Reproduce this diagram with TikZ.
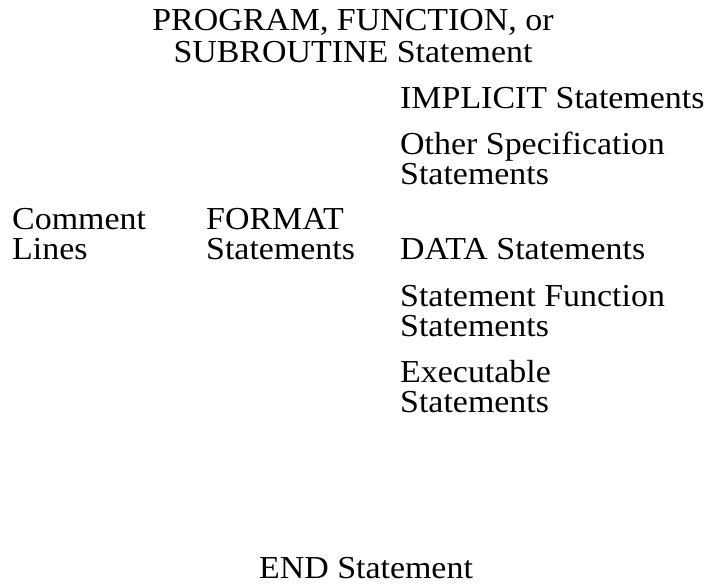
\documentclass[tikz,border=0pt]{standalone}
\usepackage{fontspec}
\setmainfont[FakeStretch=1.06]{Liberation Serif}
\begin{document}
\begin{tikzpicture}[x=1pt,y=-1pt,
  txt/.style={inner sep=0pt,anchor=base west,font=\fontsize{32}{30}\selectfont},
  ctr/.style={inner sep=0pt,anchor=base,font=\fontsize{32}{30}\selectfont}]
  \useasboundingbox (0,0) rectangle (707,586);
  % header
  \node[ctr] (head1) at (353,31) {PROGRAM, FUNCTION, or};
  \node[ctr] (head2) at (353,63) {SUBROUTINE Statement};
  % left columns
  \node[txt] (com1) at (12,229) {Comment};
  \node[txt] (com2) at (12,259) {Lines};
  \node[txt] (fmt1) at (206,229) {FORMAT};
  \node[txt] (fmt2) at (206,259) {Statements};
  % right column
  \node[txt] (impl) at (400,108) {IMPLICIT Statements};
  \node[txt] (spec1) at (400,154) {Other Specification};
  \node[txt] (spec2) at (400,184) {Statements};
  \node[txt] (data) at (400,259) {DATA Statements};
  \node[txt] (sfun1) at (400,306) {Statement Function};
  \node[txt] (sfun2) at (400,336) {Statements};
  \node[txt] (exec1) at (400,382) {Executable};
  \node[txt] (exec2) at (400,412) {Statements};
  % footer
  \node[ctr] (endst) at (366,578) {END Statement};
\end{tikzpicture}
\end{document}
